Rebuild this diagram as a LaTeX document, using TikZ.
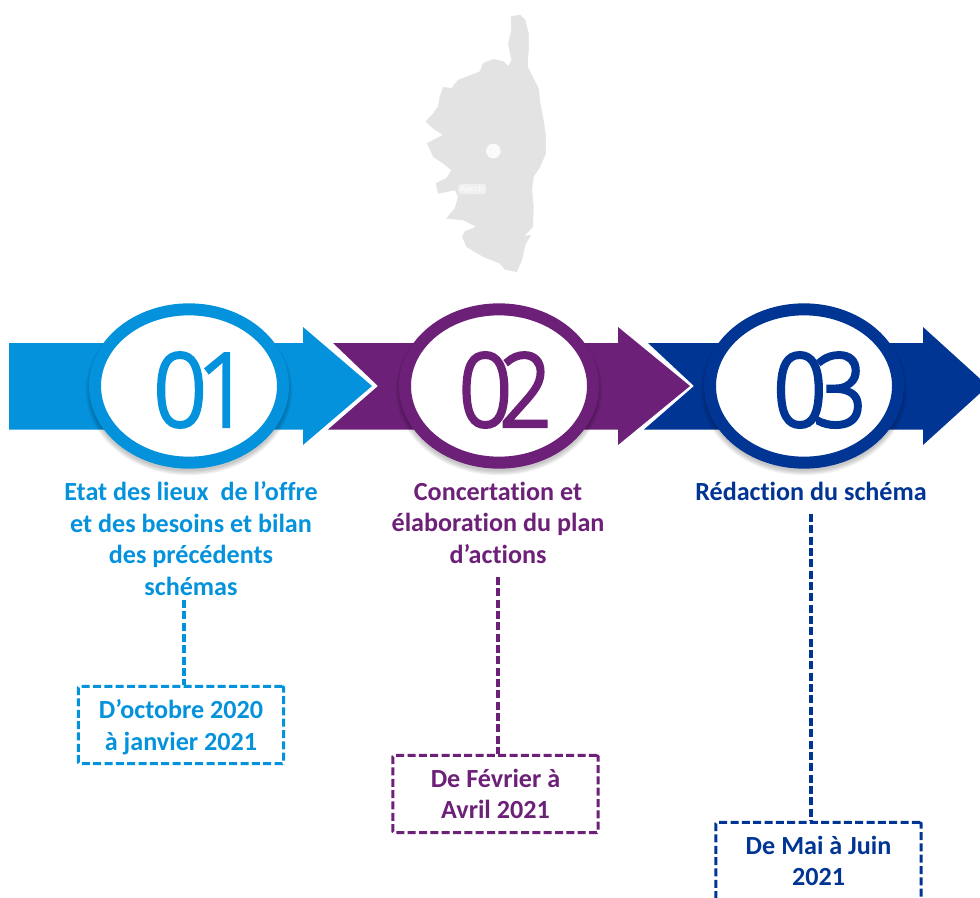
\documentclass[tikz,border=0pt]{standalone}
\usepackage{fontspec}
\setmainfont[Ligatures=NoCommon]{Carlito}
\newfontfamily\chiffre[AutoFakeBold=3.5]{Open Sans Light}
\usetikzlibrary{shapes.geometric}
\definecolor{bleu}{HTML}{0492DC}
\definecolor{violet}{HTML}{6C2077}
\definecolor{marine}{HTML}{003594}
\definecolor{gris}{HTML}{E3E3E3}
\tikzstyle{rond}=[ellipse,draw,fill=white,line width=9pt,minimum width=141pt,minimum height=115pt,inner sep=0pt]
\tikzstyle{numero}=[inner sep=0pt,xscale=0.92,font=\chiffre\bfseries\fontsize{76}{76}\selectfont]
\tikzstyle{titre}=[align=center,inner sep=0pt,font=\fontsize{19.6}{23.6}\selectfont\bfseries]
\tikzstyle{boite}=[draw,dash pattern=on 6pt off 2.5pt,line width=2.3pt,rounded corners=1pt,minimum width=154pt,minimum height=58pt,inner sep=0pt,text depth=0pt,align=center,font=\fontsize{19.6}{23.6}\selectfont\bfseries]
\tikzstyle{tiret}=[draw,dash pattern=on 6pt off 2.5pt,line width=2.4pt]
\begin{document}
\begin{tikzpicture}[x=0.75pt,y=-0.75pt]
    \useasboundingbox (0,0) rectangle (980,897);
    % The island in the background
    \begin{scope}[shift={(400,0)},x=0.25pt,y=-0.25pt]
        \fill[gris,draw=gris,line join=round] plot coordinates {(333,50) (360,45) (375,60) (385,100) (385,150) (382,200) (400,235) (415,265) (420,310) (430,360) (437,410) (437,460) (420,500) (400,530) (395,570) (400,620) (398,680) (370,710) (392,705) (375,735) (365,780) (350,815) (315,808) (300,790) (250,770) (200,740) (187,710) (195,695) (230,680) (190,660) (140,655) (165,625) (175,590) (165,570) (115,580) (108,550) (140,535) (155,510) (130,490) (100,470) (82,430) (130,405) (100,385) (78,365) (100,340) (115,320) (120,290) (130,262) (155,265) (175,240) (240,215) (250,190) (280,178) (310,185) (325,200) (335,180) (325,130) (335,90)} -- cycle;
        \node[circle,fill=white,minimum size=11pt,inner sep=0pt,opacity=0.85] (ville) at (280,453) {};
        \node[fill=white,fill opacity=0.45,text opacity=1,text=white,rounded corners=2pt,inner sep=1pt,font=\fontsize{6.5}{6.5}\selectfont] (ajaccio) at (217,567) {Ajaccio};
    \end{scope}
    % The arrows, each body is cut along the tip before it
    \foreach \xa/\xd/\xn/\xb/\xc/\col in {9/9/9/303/372/bleu, 333/328/378/618/690/violet, 648/644/694/923/988/marine}
        \path[fill=\col] (\xa,343) -- (\xb,343) -- (\xb,327) -- (\xc,386) -- (\xb,445) -- (\xb,429.5) -- (\xd,429.5) -- (\xn,386) -- cycle;
    % Then the rings with their numbers
    \foreach \x/\xnum/\name/\txt/\col in {189/202/1/0\kern-0.1em 1/bleu, 499/505.5/2/0\kern-0.14em 2/violet, 804/820/3/0\kern-0.14em 3/marine}{
        \foreach \r in {1,...,4}
            \fill[black,opacity=0.06] (\x,390) ellipse ({98+\r*1.3} and {80+\r*1.3});
        \node[rond,draw=\col] (rond\name) at (\x,386) {};
        \node[numero,text=\col] (num\name) at (\xnum,390) {\txt};
    }
    % The titles
    \node[titre,text=bleu] (titre1) at (191,538.5) {Etat des lieux\ \ de l’offre\\et des besoins et bilan\\des précédents\\schémas};
    \node[titre,text=violet] (titre2) at (498,522.5) {Concertation et\\élaboration du plan\\d’actions};
    \node[titre,text=marine] (titre3) at (811,491) {Rédaction du schéma};
    % The dated boxes
    \node[boite,draw=bleu,text=bleu] (date1) at (181,725) {D’octobre 2020\\à janvier 2021};
    \node[boite,draw=violet,text=violet] (date2) at (495.5,794) {De Février à\\Avril 2021};
    \node[boite,draw=marine,text=marine] (date3) at (818.5,861) {De Mai à Juin\\2021};
    % Connect titles and boxes
    \foreach \xpos/\ypos/\name/\col in {184/600/1/bleu, 498/577/2/violet, 811/514/3/marine}{
        \coordinate (haut\name) at (\xpos,\ypos);
        \path[tiret,draw=\col] (haut\name) -- (haut\name |- date\name.north);
    }
\end{tikzpicture}
\end{document}
